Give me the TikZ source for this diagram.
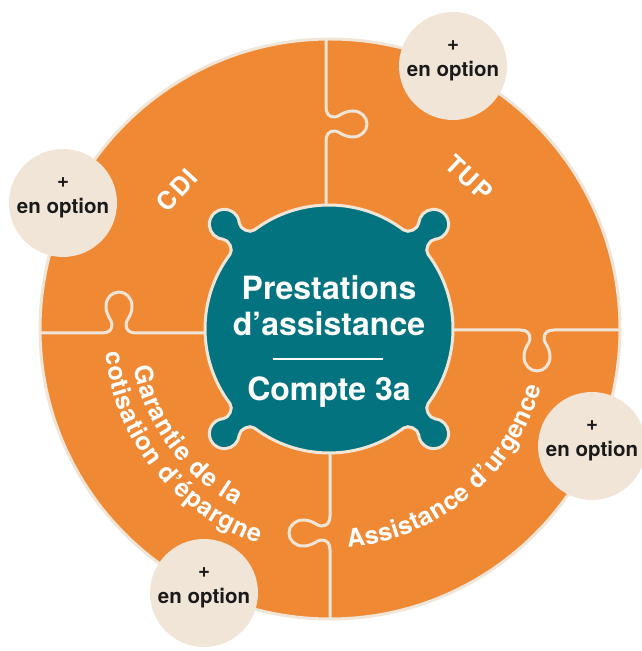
\documentclass[tikz,border=0pt]{standalone}
\usepackage{fontspec}
\setmainfont{TeX Gyre Heros}
\newfontfamily\trackfont[LetterSpace=6]{TeX Gyre Heros}
\usetikzlibrary{decorations.text}
\definecolor{orangeP}{RGB}{240,137,52}
\definecolor{tealP}{RGB}{3,115,128}
\definecolor{creamP}{RGB}{241,229,215}
\definecolor{inkP}{RGB}{26,26,26}
\newcommand\curvefont{\color{white}\fontsize{25}{28}\selectfont\bfseries}
\begin{document}
\begin{tikzpicture}[x=1pt,y=1pt,
  divider/.style={draw=creamP, line width=3pt, line join=round},
  puzzletab/.style={insert path={.. controls (-10,0) and (-7,3) .. (-7,9) .. controls (-7,13) and (-13,17) .. (-13,27) .. controls (-13,35) and (-7,41) .. (0,41) .. controls (7,41) and (13,35) .. (13,27) .. controls (13,17) and (7,13) .. (7,9) .. controls (7,3) and (10,0) .. (17,0)}},
  bubble/.style={circle, fill=creamP, minimum size=108pt, inner sep=0pt},
  opttext/.style={font=\fontsize{20.5}{24}\selectfont\bfseries, text=inkP, inner sep=0pt},
  centertext/.style={font=\fontsize{32}{36}\selectfont\bfseries, text=white, inner sep=0pt},
  labeltext/.style={font=\trackfont\fontsize{25}{28}\selectfont\bfseries, text=white, inner sep=0pt},
  curved/.style={decorate, decoration={text along path, text={|\curvefont|#1}, text align=fit to path}}
]
\useasboundingbox (0,0) rectangle (642,651);

% orange disc
\fill[orangeP] (330,322) circle (290);
\begin{scope}
  \clip (330,322) circle (290);
  \begin{scope}[shift={(326,527)}, rotate=-90]
    \draw[divider] (-100,0) -- (-17,0) [puzzletab] -- (210,0);
  \end{scope}
  \begin{scope}[shift={(119,318)}]
    \draw[divider] (-100,0) -- (-17,0) [puzzletab] -- (215,0);
  \end{scope}
  \begin{scope}[shift={(537,321)}, rotate=180]
    \draw[divider] (-100,0) -- (-17,0) [puzzletab] -- (210,0);
  \end{scope}
  \begin{scope}[shift={(330,118)}, rotate=90]
    \draw[divider] (-100,0) -- (-17,0) [puzzletab] -- (210,0);
  \end{scope}
\end{scope}
\draw[creamP, line width=3pt] (330,322) circle (290);

% teal centre piece
\begin{scope}[shift={(329,322)}]
  \filldraw[fill=tealP, draw=creamP, line width=3pt] (-37:124)
    foreach \k in {45,135,225,315} {
      arc[start angle=\k-82, end angle=\k-8, radius=124]
      .. controls ({\k-5.27}:124.12) and ({\k-3.265}:133.98) .. ({\k-4.747}:138.84)
      arc[start angle=\k-130, end angle=\k+130, radius=15]
      .. controls ({\k+3.265}:133.98) and ({\k+5.27}:124.12) .. ({\k+8}:124)
    } -- cycle;
\end{scope}

% centre text
\node[centertext, anchor=base] (t1) at (329,351) {Prestations};
\node[centertext, anchor=base] (t2) at (329,315) {d’assistance};
\coordinate (sepL) at (273,292);
\coordinate (sepR) at (383,292);
\draw[white, line width=2.5pt] (sepL) -- (sepR);
\node[centertext, anchor=base] (t3) at (329,250) {Compte 3a};

% piece labels
\node[labeltext, rotate=47] (cdi) at (177,461) {CDI};
\node[labeltext, rotate=-43] (tup) at (469,473) {TUP};
\begin{scope}[shift={(330,322)}]
  \path[curved={Assistance d’urgence}] (-85.3:219) arc[start angle=-85.3, end angle=-15.4, radius=219];
  \path[curved={Garantie de la}] (191:200) arc[start angle=191, end angle=242, radius=200];
  \path[curved={cotisation d’épargne}] (186:226) arc[start angle=186, end angle=251.5, radius=226];
\end{scope}

% option bubbles
\node[bubble] (bTR) at (453,585) {};
\node[bubble] (bL) at (63,448) {};
\node[bubble] (bR) at (592,205) {};
\node[bubble] (bB) at (204,58) {};
\foreach \b in {bTR,bL,bR,bB} {
  \node[opttext] (p\b) at ([yshift=20pt]\b.center) {+};
  \node[opttext, anchor=base] (o\b) at ([yshift=-11pt]\b.center) {en option};
}
\end{tikzpicture}
\end{document}
